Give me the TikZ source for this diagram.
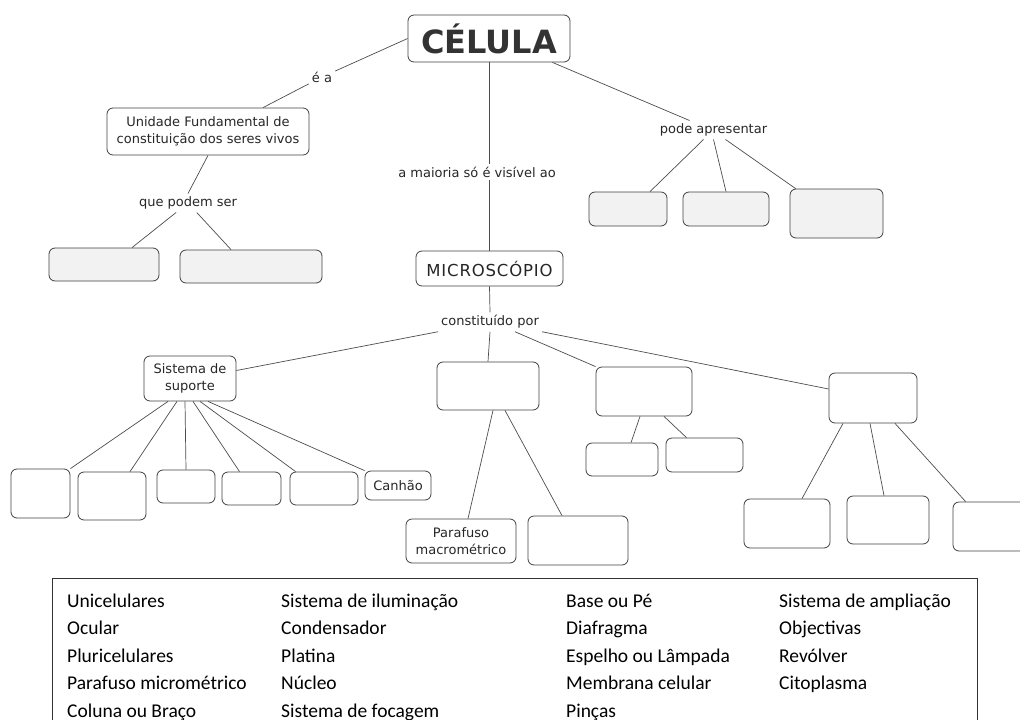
\documentclass[tikz,border=0pt]{standalone}
\usepackage{fontspec}
\setmainfont{DejaVu Sans}
\newfontfamily\banco{Carlito}
\newfontfamily\fontmicro[LetterSpace=5]{DejaVu Sans}
\usetikzlibrary{positioning}
\usetikzlibrary{calc}

\begin{document}
\begin{tikzpicture}[x=1pt,y=-1pt,
    caixa/.style={draw=black!75,rounded corners=6pt,line width=0.8pt,inner sep=0pt,align=center,
                  font=\fontsize{13}{16.5}\selectfont,text=black!85},
    cinza/.style={caixa,fill=black!5},
    rotulo/.style={inner sep=3pt,font=\fontsize{13}{16}\selectfont,text=black!85},
    liga/.style={draw=black!70,line width=0.7pt},
    palavra/.style={anchor=base west,inner sep=0pt,font=\banco\fontsize{19.5}{24}\selectfont}]
    \useasboundingbox (0,0) rectangle (1020,720);

    % topo
    \node[caixa,minimum width=162,minimum height=47,font=\bfseries\fontsize{32}{36}\selectfont,text=black!80] (celula) at (489,38.5) {CÉLULA};
    \node[rotulo] (ea) at (322,77) {é a};
    \node[caixa,minimum width=202,minimum height=47] (unid) at (208,131.5) {Unidade Fundamental de\\constituição dos seres vivos};
    \node[rotulo] (qps) at (188,203) {que podem ser};
    \node[cinza,minimum width=110,minimum height=33] (g1) at (104,264.5) {};
    \node[cinza,minimum width=142,minimum height=33] (g2) at (251,266.5) {};
    \node[rotulo] (maioria) at (477,172) {a maioria só é visível ao};
    \node[caixa,minimum width=147,minimum height=35,font=\fontmicro\fontsize{16.5}{19}\selectfont] (micro) at (489.5,268.5) {MICROSCÓPIO};
    \node[rotulo] (pode) at (713.5,130) {pode apresentar};
    \node[cinza,minimum width=78,minimum height=34] (g3) at (628,209) {};
    \node[cinza,minimum width=86,minimum height=34] (g4) at (726,209) {};
    \node[cinza,minimum width=93,minimum height=49] (g5) at (836.5,213.5) {};

    \draw[liga] (celula.west) -- (ea);
    \draw[liga] (ea) -- ([xshift=55]unid.north);
    \draw[liga] (unid.south) -- (qps.north);
    \draw[liga] (qps) -- ([xshift=28]g1.north);
    \draw[liga] (qps) -- ([xshift=-20]g2.north);
    \draw[liga] (celula.south) -- (celula.south |- maioria.north);
    \draw[liga] (micro.north) -- (micro.north |- maioria.south);
    \draw[liga] ([xshift=-18]celula.south east) -- ([xshift=-24]pode.north);
    \draw[liga] ([xshift=-10]pode.south) -- ([xshift=22]g3.north);
    \draw[liga] (pode.south) -- (g4.north);
    \draw[liga] ([xshift=12]pode.south) -- ([xshift=6]g5.north west);

    % microscopio
    \node[rotulo] (const) at (490,322) {constituído por};
    \node[caixa,minimum width=92,minimum height=45] (sup) at (190,378.5) {Sistema de\\suporte};
    \node[caixa,minimum width=102,minimum height=48] (m1) at (488,386) {};
    \node[caixa,minimum width=96,minimum height=49] (m2) at (644,391.5) {};
    \node[caixa,minimum width=88,minimum height=50] (m3) at (873,398) {};

    \draw[liga] (micro.south) -- (const.north);
    \draw[liga] (const.south) -- (m1.north);
    \draw[liga] (const.south west) -- ([yshift=8]sup.east);
    \draw[liga] ([xshift=25]const.south) -- (m2.north west);
    \draw[liga] (const.south east) -- ([yshift=9]m3.west);

    % sistema de suporte
    \node[caixa,minimum width=59,minimum height=49] (s1) at (40.5,493.5) {};
    \node[caixa,minimum width=68,minimum height=48] (s2) at (112,496) {};
    \node[caixa,minimum width=58,minimum height=33] (s3) at (186,486.5) {};
    \node[caixa,minimum width=59,minimum height=33] (s4) at (251.5,488.5) {};
    \node[caixa,minimum width=68,minimum height=33] (s5) at (324,488.5) {};
    \node[caixa,minimum width=66,minimum height=29] (s6) at (398,485.5) {Canhão};

    \draw[liga] ([xshift=-22]sup.south) -- (s1.north east);
    \draw[liga] ([xshift=-13]sup.south) -- ([xshift=18]s2.north);
    \draw[liga] ([xshift=-5]sup.south) -- (s3.north);
    \draw[liga] ([xshift=3]sup.south) -- ([xshift=-12]s4.north);
    \draw[liga] ([xshift=10]sup.south) -- ([xshift=6]s5.north west);
    \draw[liga] ([xshift=18]sup.south) -- (s6.north west);

    % restantes sistemas
    \node[caixa,minimum width=110,minimum height=44] (pm) at (461,541) {Parafuso\\macrométrico};
    \node[caixa,minimum width=100,minimum height=49] (m1b) at (578,540.5) {};
    \node[caixa,minimum width=72,minimum height=33] (m2a) at (622,459.5) {};
    \node[caixa,minimum width=77,minimum height=34] (m2b) at (704.5,455) {};
    \node[caixa,minimum width=86,minimum height=49] (m3a) at (787,523.5) {};
    \node[caixa,minimum width=82,minimum height=48] (m3b) at (888,520) {};
    \node[caixa,minimum width=90,minimum height=49] (m3c) at (998,526.5) {};

    \draw[liga] ([xshift=5]m1.south) -- ([xshift=7]pm.north);
    \draw[liga] ([xshift=17]m1.south) -- ([xshift=-16]m1b.north);
    \draw[liga] ([xshift=-4]m2.south) -- ([xshift=9]m2a.north);
    \draw[liga] ([xshift=20]m2.south) -- ([xshift=-18]m2b.north);
    \draw[liga] ([xshift=-30]m3.south) -- ([xshift=15]m3a.north);
    \draw[liga] ([xshift=-3]m3.south) -- ([xshift=-4]m3b.north);
    \draw[liga] ([xshift=22]m3.south) -- ([xshift=13]m3c.north west);

    % banco de palavras
    \draw[black!80,line width=0.9pt] (52,578) rectangle (977,745);
    \foreach \t [count=\i] in {Unicelulares,Ocular,Pluricelulares,Parafuso micrométrico,Coluna ou Braço}
        \node[palavra] (pa\i) at (67,{579.5+27.5*\i}) {\t};
    \foreach \t [count=\i] in {Sistema de iluminação,Condensador,Platina,Núcleo,Sistema de focagem}
        \node[palavra] (pb\i) at (281,{579.5+27.5*\i}) {\t};
    \foreach \t [count=\i] in {Base ou Pé,Diafragma,Espelho ou Lâmpada,Membrana celular,Pinças}
        \node[palavra] (pc\i) at (566,{579.5+27.5*\i}) {\t};
    \foreach \t [count=\i] in {Sistema de ampliação,Objectivas,Revólver,Citoplasma}
        \node[palavra] (pd\i) at (779,{579.5+27.5*\i}) {\t};
\end{tikzpicture}
\end{document}
